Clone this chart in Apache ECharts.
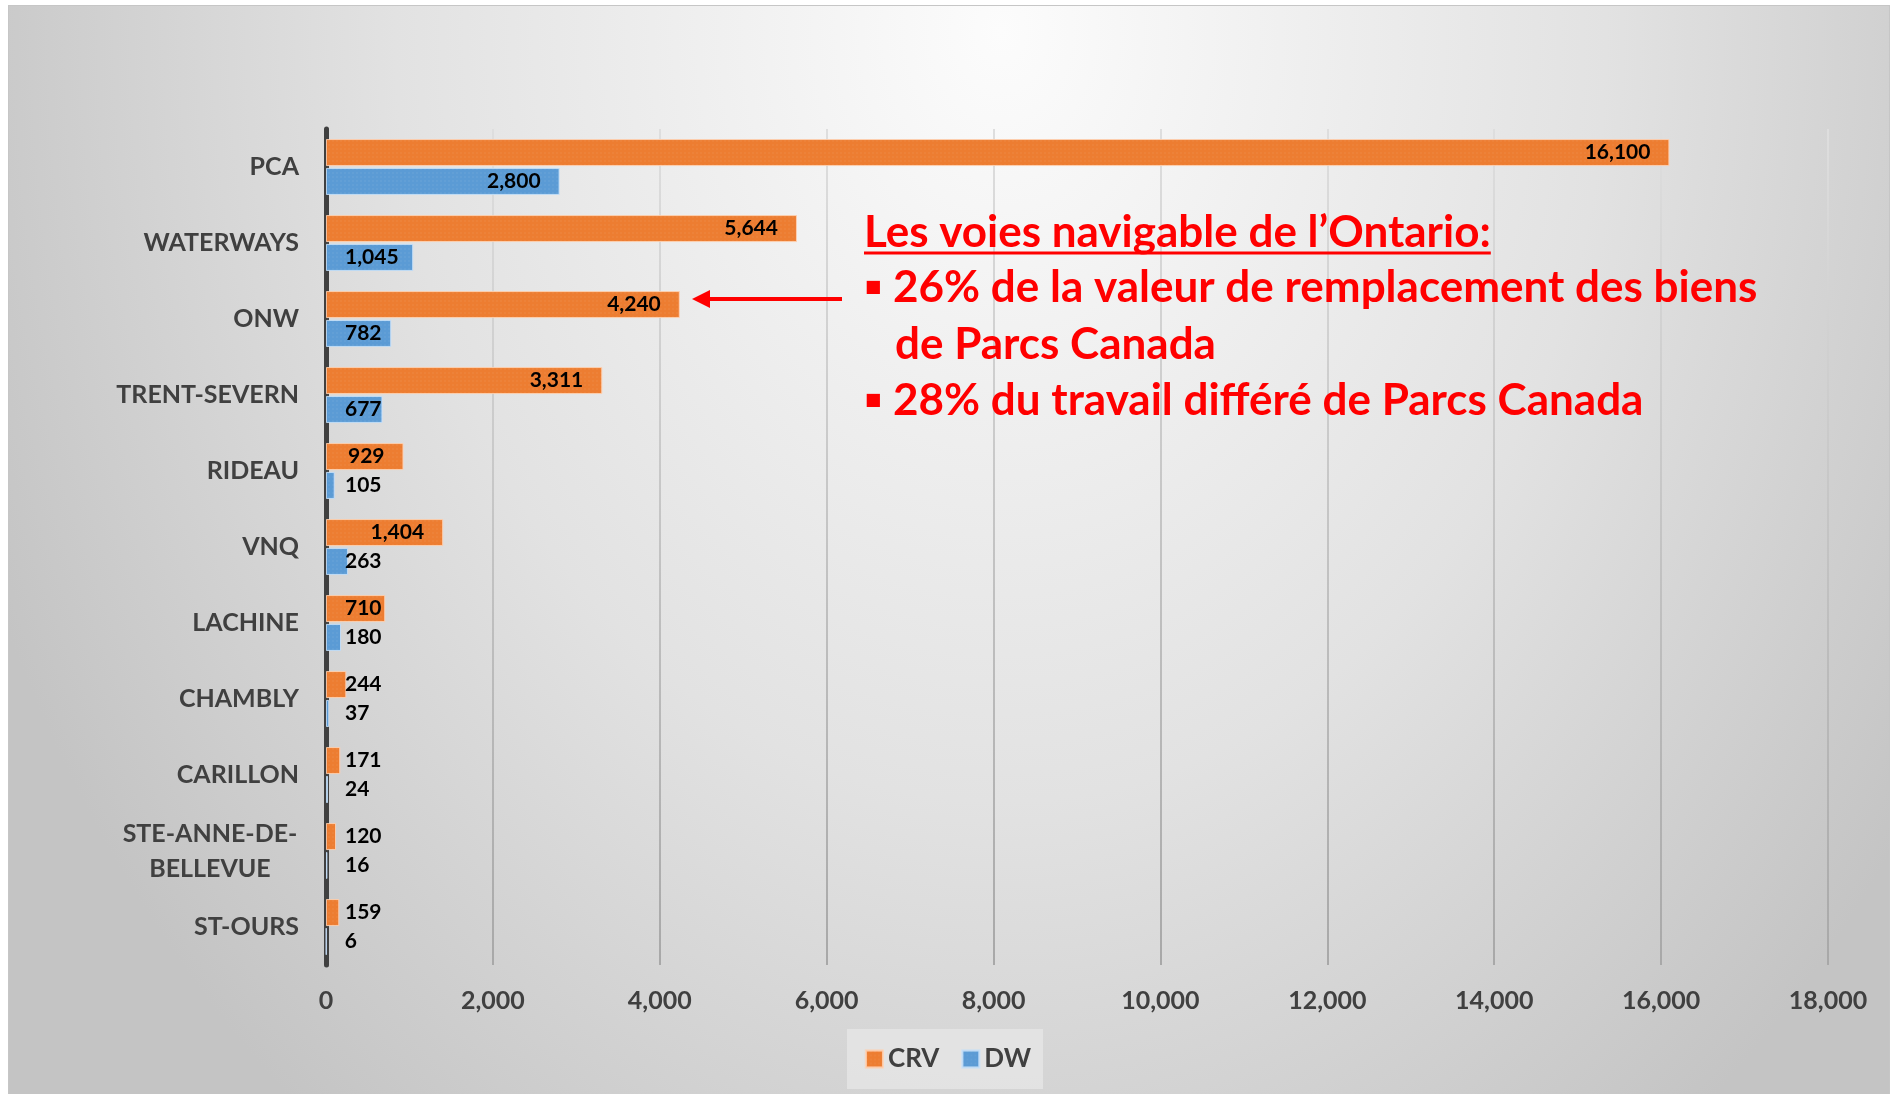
<!DOCTYPE html>
<html>
<head>
<meta charset="utf-8">
<title>CRV / DW</title>
<script src="https://cdn.jsdelivr.net/npm/echarts@6/dist/echarts.min.js"></script>
<style>
html, body { margin: 0; padding: 0; background: #fff; }
#bg {
	position: absolute; left: 8px; top: 5px; width: 1882px; height: 1089px;
	box-sizing: border-box; border: 1px solid #c6c6c6; border-bottom: none;
	background: radial-gradient(ellipse 1100px 1400px at 992px 25px, #fcfcfc 0%, #e2e2e2 55%, #c4c4c4 100%);
}
#main { position: absolute; left: 0; top: 0; width: 1896px; height: 1094px; }
</style>
</head>
<body>
<div id="bg"></div>
<div id="main"></div>
<script>
// categories, top to bottom
var categories = ['PCA', 'WATERWAYS', 'ONW', 'TRENT-SEVERN', 'RIDEAU', 'VNQ', 'LACHINE',
	'CHAMBLY', 'CARILLON', 'STE-ANNE-DE-\nBELLEVUE', 'ST-OURS'];
var crvValues = [16100, 5644, 4240, 3311, 929, 1404, 710, 244, 171, 120, 159];
var dwValues = [2800, 1045, 782, 677, 105, 263, 180, 37, 24, 16, 6];
var seriesNames = ['CRV', 'DW'];
var axisMin = 0;
var axisMax = 18000;
var axisStep = 2000;

// encadré rouge
var noteTitle = 'Les voies navigable de l\u2019Ontario:';
var noteLines = ['\u25AA 26% de la valeur de remplacement des biens', 'de Parcs Canada',
	'\u25AA 28% du travail diff\u00e9r\u00e9 de Parcs Canada'];

var gridLeft = 326, gridRight = 68, gridTop = 129, gridBottom = 129;
var plotWidth = 1896 - gridLeft - gridRight;
var pxPerUnit = plotWidth / (axisMax - axisMin);
var labelFont = 'bold 21px Lato';
var noteFont = 'bold 44px Lato';

var ctx = document.createElement('canvas').getContext('2d');
function fmt(v)
{
	return echarts.format.addCommas(v);
}
// comme Excel: fin de barre, sinon collé au début
function barLabel(v)
{
	ctx.font = labelFont;
	var w = ctx.measureText(fmt(v)).width;
	var start = Math.max(19, v * pxPerUnit - 19 - w);
	return { position: 'insideLeft', distance: 0, offset: [start, 0] };
}
function buildData(values)
{
	var out = [];
	for (var i = 0; i < values.length; i++)
	{
		out.push({ value: values[i], label: barLabel(values[i]) });
	}
	return out;
}

ctx.font = noteFont;
var titleWidth = ctx.measureText(noteTitle).width;

var decal = {
	symbol: 'rect', symbolSize: 0.5, color: 'rgba(255,255,255,0.18)',
	dashArrayX: [2, 2], dashArrayY: [2, 2], rotation: 0
};

var myChart = echarts.init(document.getElementById('main'));
var option = {
	backgroundColor: 'transparent',
	animation: false,
	grid: { left: gridLeft, right: gridRight, top: gridTop, bottom: gridBottom, containLabel: false },
	legend: {
		data: seriesNames,
		left: 'center',
		top: 1029,
		icon: 'rect',
		itemWidth: 17,
		itemHeight: 17,
		itemGap: 22,
		padding: [17, 12, 17, 18],
		backgroundColor: 'rgba(232,232,232,0.7)',
		textStyle: { fontFamily: 'Lato', fontWeight: 'bold', fontSize: 26, color: '#404040' }
	},
	xAxis: {
		type: 'value',
		min: axisMin,
		max: axisMax,
		interval: axisStep,
		axisLine: { show: false },
		axisTick: { show: false },
		axisLabel: {
			margin: 23,
			fontFamily: 'Lato', fontWeight: 'bold', fontSize: 25, color: '#404040',
			formatter: function (v) { return fmt(v); }
		},
		splitLine: {
			show: true,
			lineStyle: {
				width: 2,
				color: {
					type: 'linear', x: 0, y: gridTop, x2: 0, y2: 1094 - gridBottom, global: true,
					colorStops: [{ offset: 0, color: '#dedede' }, { offset: 1, color: '#a8a8a8' }]
				}
			}
		}
	},
	yAxis: {
		type: 'category',
		data: categories,
		inverse: true,
		axisTick: { show: false },
		axisLine: { show: true, lineStyle: { color: '#404040', width: 5 } },
		axisLabel: {
			margin: 27,
			fontFamily: 'Lato', fontWeight: 'bold', fontSize: 25, color: '#404040',
			formatter: function (v)
			{
				if (v.indexOf('\n') < 0) return v;
				return v.split('\n').map(function (s) { return '{c|' + s + '}'; }).join('\n');
			},
			rich: {
				c: { width: 178, align: 'center', lineHeight: 35, fontFamily: 'Lato',
					fontWeight: 'bold', fontSize: 25, color: '#404040' }
			}
		}
	},
	series: [
		{
			name: seriesNames[0],
			type: 'bar',
			barWidth: 27,
			barGap: '7%',
			data: buildData(crvValues),
			itemStyle: { color: '#ED7D31', borderColor: 'rgba(255,210,180,0.6)', borderWidth: 1, decal: decal },
			label: { show: true, color: '#000', fontFamily: 'Lato', fontWeight: 'bold', fontSize: 21,
				formatter: function (p) { return fmt(p.value); } }
		},
		{
			name: seriesNames[1],
			type: 'bar',
			barWidth: 27,
			barGap: '7%',
			data: buildData(dwValues),
			itemStyle: { color: '#5B9BD5', borderColor: 'rgba(200,225,250,0.6)', borderWidth: 1, decal: decal },
			label: { show: true, color: '#000', fontFamily: 'Lato', fontWeight: 'bold', fontSize: 21,
				formatter: function (p) { return fmt(p.value); } }
		}
	],
	graphic: [
		{ type: 'text', z: 100, x: 864, y: 233, style: { text: noteTitle, font: noteFont, fill: '#ff0000', align: 'left', verticalAlign: 'middle' } },
		{ type: 'line', z: 100, shape: { x1: 864, y1: 253, x2: 864 + titleWidth, y2: 253 }, style: { stroke: '#ff0000', lineWidth: 3 } },
		{ type: 'text', z: 100, x: 864, y: 288, style: { text: noteLines[0], font: noteFont, fill: '#ff0000', align: 'left', verticalAlign: 'middle' } },
		{ type: 'text', z: 100, x: 895, y: 345, style: { text: noteLines[1], font: noteFont, fill: '#ff0000', align: 'left', verticalAlign: 'middle' } },
		{ type: 'text', z: 100, x: 864, y: 401, style: { text: noteLines[2], font: noteFont, fill: '#ff0000', align: 'left', verticalAlign: 'middle' } },
		// flèche vers ONW
		{ type: 'line', z: 100, shape: { x1: 842, y1: 299, x2: 706, y2: 299 }, style: { stroke: '#ff0000', lineWidth: 4 } },
		{ type: 'polygon', z: 100, shape: { points: [[692, 299], [710, 290], [710, 308]] }, style: { fill: '#ff0000' } }
	]
};
myChart.setOption(option);
</script>
</body>
</html>
